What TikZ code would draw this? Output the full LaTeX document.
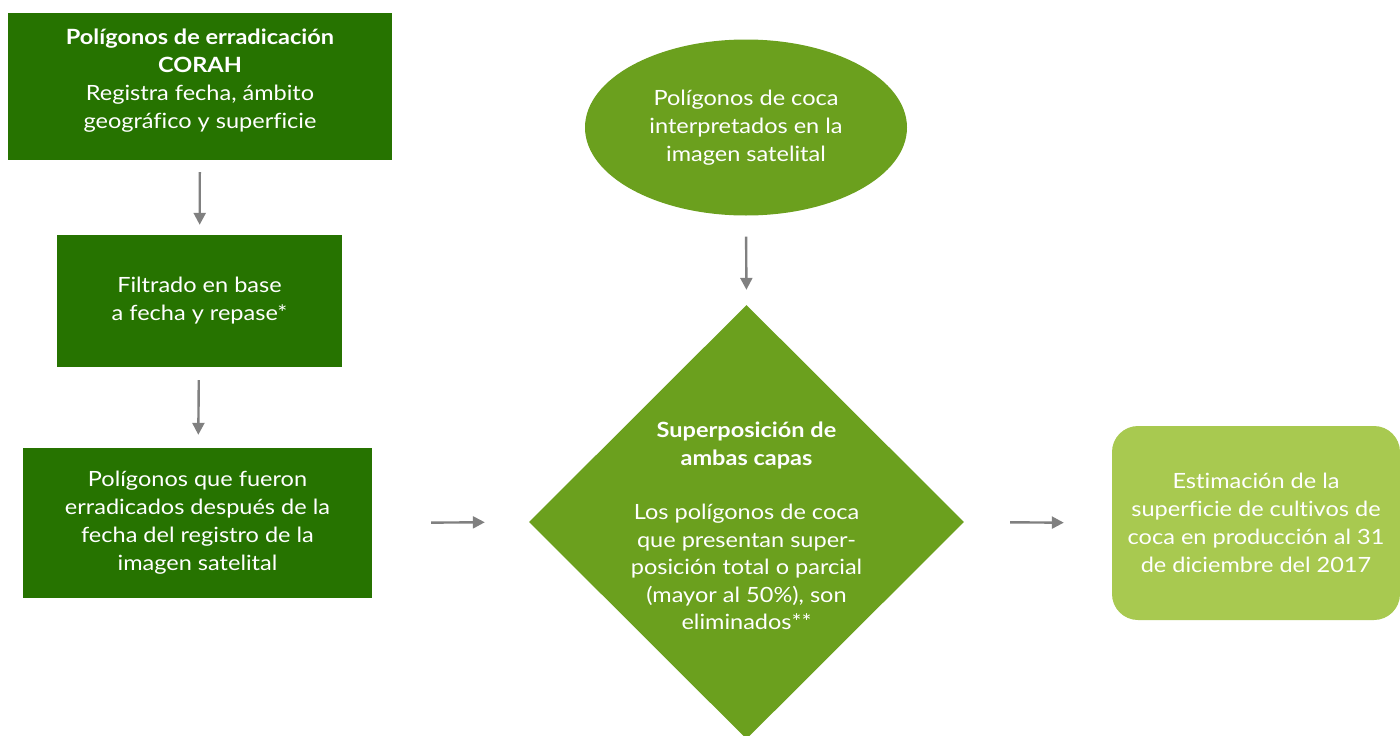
\documentclass[tikz,border=0pt]{standalone}
\usepackage{fontspec}
\setmainfont{Lato}[FakeStretch=1.12,Ligatures=NoCommon]
\usetikzlibrary{shapes.geometric,arrows.meta}
\definecolor{dkgreen}{RGB}{38,115,0}
\definecolor{mdgreen}{RGB}{107,160,30}
\definecolor{ltgreen}{RGB}{168,201,80}
\definecolor{arrowgray}{RGB}{128,128,128}
\begin{document}
\begin{tikzpicture}[x=1pt,y=-1pt,
  txt/.style={text=white,font=\fontsize{21}{28}\selectfont,align=center},
  darkbox/.style={txt,rectangle,fill=dkgreen,inner sep=0pt},
  conn/.style={draw=arrowgray,line width=2.4pt,-{Triangle[length=12pt,width=12pt]}}
]
\useasboundingbox (0,0) rectangle (1400,736);
\node[darkbox,minimum width=384pt,minimum height=147pt,text depth=16pt] (b1) at (200,86.5)
  {\textbf{Polígonos de erradicación}\\\textbf{CORAH}\\Registra fecha, ámbito\\geográfico y superficie};
\node[darkbox,minimum width=285pt,minimum height=132pt] (b2) at (199.5,301)
  {Filtrado en base\\a fecha y repase*};
\node[darkbox,minimum width=349pt,minimum height=150pt] (b3) at (197.5,523)
  {Polígonos que fueron\\erradicados después de la\\fecha del registro de la\\imagen satelital};
\node[txt,ellipse,fill=mdgreen,minimum width=322pt,minimum height=176pt,inner sep=0pt] (el) at (746,127.5)
  {Polígonos de coca\\interpretados en la\\imagen satelital};
\node[diamond,fill=mdgreen,minimum width=435pt,minimum height=434pt,inner sep=0pt,aspect=1] (dm) at (746.5,522) {};
\node[txt,font=\fontsize{21}{27.5}\selectfont] (dt) at (746.5,526)
  {\textbf{Superposición de}\\\textbf{ambas capas}\\[27pt]Los polígonos de coca\\que presentan super-\\posición total o parcial\\(mayor al 50\%), son\\eliminados**};
\node[txt,rectangle,rounded corners=26pt,fill=ltgreen,minimum width=288pt,minimum height=194pt,inner sep=0pt] (rb) at (1256,523)
  {Estimación de la\\superficie de cultivos de\\coca en producción al 31\\de diciembre del 2017};
\draw[conn,shorten <=12pt,shorten >=10pt] (b1) -- (b2);
\draw[conn,shorten <=13pt,shorten >=13pt] (b2) -- (b3);
\draw[conn,shorten <=59pt,shorten >=44pt] (b3.east) -- (dm.west);
\draw[conn,shorten <=21pt,shorten >=15pt] (el.south) -- (dm.north);
\draw[conn,shorten <=46pt,shorten >=48pt] (dm.east) -- (rb.west);
\end{tikzpicture}
\end{document}
